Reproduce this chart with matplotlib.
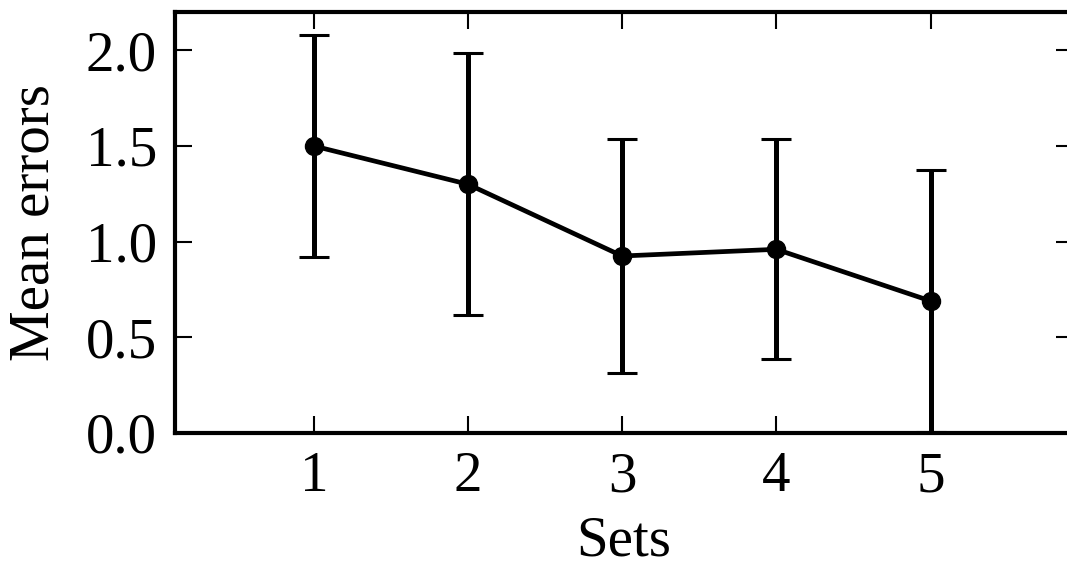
import matplotlib
matplotlib.use("Agg")
import matplotlib.pyplot as plt

# data
sets = [1, 2, 3, 4, 5]
mean_err = [1.50, 1.30, 0.925, 0.96, 0.69]
std_err = [0.58, 0.685, 0.61, 0.575, 0.685]

plt.rcParams['font.family'] = ['Liberation Serif', 'DejaVu Serif']
plt.rcParams['font.size'] = 41

fig = plt.figure(figsize=(10.67, 5.75), dpi=100)
# right spine sits just past the picture edge, as in the reference
ax = fig.add_axes([0.164, 0.247, 0.8415, 0.732])

ax.errorbar(sets, mean_err, yerr=std_err, color='black', linewidth=3.4,
            elinewidth=3.6, capsize=11, capthick=2.2,
            marker='o', markersize=13)

ax.set_xlim(0.1, 5.923)
ax.set_ylim(0, 2.2)
ax.set_xticks(sets)
ax.set_yticks([0.0, 0.5, 1.0, 1.5, 2.0])
ax.set_yticklabels(['0.0', '0.5', '1.0', '1.5', '2.0'])

for s in ax.spines.values():
    s.set_linewidth(3)
ax.tick_params(direction='in', length=12, width=1.5, top=True, right=True, pad=13)

ax.set_xlabel('Sets', labelpad=9)
ax.set_ylabel('Mean errors', labelpad=18)

fig.savefig('out.png', dpi=100)
